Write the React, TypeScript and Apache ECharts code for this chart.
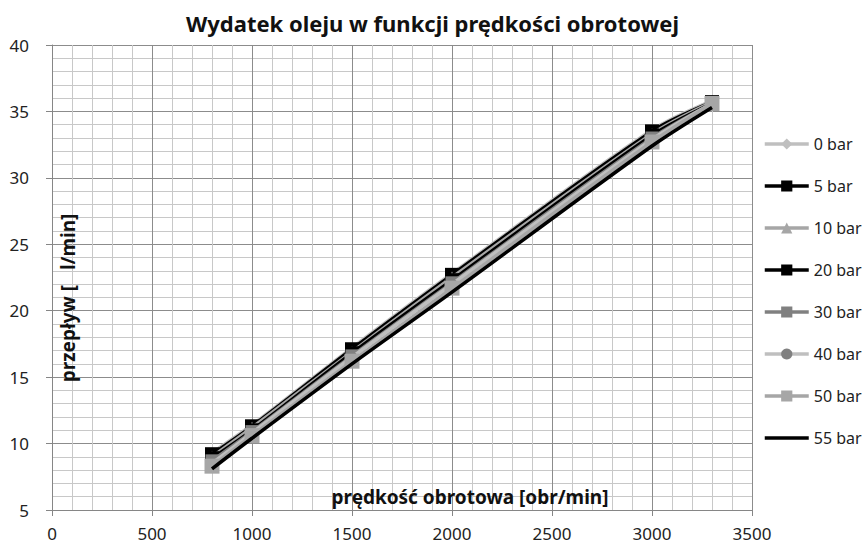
import React, { useEffect, useRef } from "react";
import * as echarts from "echarts";

const speeds = [800, 1000, 1500, 2000, 3000, 3300];
const seriesNames = ["0 bar", "5 bar", "10 bar", "20 bar", "30 bar", "40 bar", "50 bar", "55 bar"];
const bar0 = [9.3, 11.4, 17.2, 22.8, 33.6, 35.8];
const bar5 = [9.2, 11.3, 17.1, 22.7, 33.5, 35.7];
const bar10 = [9.0, 11.2, 16.9, 22.5, 33.3, 35.7];
const bar20 = [8.9, 11.0, 16.8, 22.3, 33.2, 35.6];
const bar30 = [8.7, 10.9, 16.6, 22.1, 33.0, 35.6];
const bar40 = [8.5, 10.8, 16.5, 22.0, 32.9, 35.6];
const bar50 = [8.3, 10.6, 16.2, 21.7, 32.7, 35.6];
const bar55 = [8.1, 10.4, 16.0, 21.4, 32.4, 35.3];
const xTicks = [0, 500, 1000, 1500, 2000, 2500, 3000, 3500];
const yTicks = [5, 10, 15, 20, 25, 30, 35, 40];

const values = [bar0, bar5, bar10, bar20, bar30, bar40, bar50, bar55];
const styles = [
  { line: "#bfbfbf", mark: "#bfbfbf", symbol: "diamond", size: 11 },
  { line: "#000000", mark: "#000000", symbol: "rect", size: 14 },
  { line: "#a6a6a6", mark: "#a6a6a6", symbol: "triangle", size: 12 },
  { line: "#000000", mark: "#000000", symbol: "rect", size: 14 },
  { line: "#808080", mark: "#808080", symbol: "rect", size: 13 },
  { line: "#bfbfbf", mark: "#808080", symbol: "circle", size: 11 },
  { line: "#a6a6a6", mark: "#a6a6a6", symbol: "rect", size: 15 },
  { line: "#000000", mark: "#000000", symbol: "none", size: 0 },
];

const FONT = "Noto Sans";

export default function App() {
  const ref = useRef<HTMLDivElement>(null);
  useEffect(() => {
    if (!ref.current) return;
    const chart = echarts.init(ref.current, null, { renderer: "svg" });
    const series = seriesNames.map((name, i) => ({
      name,
      type: "line",
      smooth: 0.3,
      data: speeds.map((s, j) => [s, values[i][j]]),
      symbol: styles[i].symbol,
      symbolSize: styles[i].size,
      showSymbol: styles[i].symbol !== "none",
      lineStyle: { color: styles[i].line, width: 3.5 },
      itemStyle: { color: styles[i].mark, borderWidth: 0 },
      emphasis: { disabled: true },
      z: 2 + i,
    }));
    const legendData = seriesNames.map((name, i) =>
      styles[i].symbol === "none"
        ? { name, itemStyle: { color: "rgba(0,0,0,0)", borderWidth: 0 } }
        : { name }
    );
    chart.setOption({
      animation: false,
      backgroundColor: "#ffffff",
      title: {
        text: "Wydatek oleju w funkcji prędkości obrotowej",
        left: "center",
        top: 7,
        textStyle: { fontFamily: FONT, fontSize: 22, fontWeight: "bold", color: "#111" },
      },
      grid: { left: 52, right: 113, top: 45, bottom: 36, containLabel: false },
      legend: {
        orient: "vertical",
        left: 758,
        top: 131,
        itemWidth: 44,
        itemHeight: 14,
        itemGap: 26,
        data: legendData,
        lineStyle: { width: 3.5 },
        textStyle: { fontFamily: FONT, fontSize: 16, color: "#222" },
      },
      xAxis: {
        type: "value",
        min: 0,
        max: 3500,
        interval: 500,
        axisLine: { show: true, lineStyle: { color: "#868686", width: 1 } },
        axisTick: { show: true, length: 6, lineStyle: { color: "#868686" } },
        axisLabel: {
          margin: 15,
          fontFamily: FONT,
          fontSize: 17,
          color: "#222",
          formatter: (v: number) => (xTicks.includes(v) ? String(v) : ""),
        },
        splitLine: { show: true, lineStyle: { color: "#8c8c8c", width: 1 } },
        minorTick: { show: false, splitNumber: 5 },
        minorSplitLine: { show: true, lineStyle: { color: "#c8c8c8", width: 1 } },
      },
      yAxis: {
        type: "value",
        min: 5,
        max: 40,
        interval: 5,
        axisLine: { show: true, lineStyle: { color: "#868686", width: 1 } },
        axisTick: { show: true, length: 6, lineStyle: { color: "#868686" } },
        axisLabel: {
          margin: 23,
          fontFamily: FONT,
          fontSize: 17,
          color: "#222",
          formatter: (v: number) => (yTicks.includes(v) ? String(v) : ""),
        },
        splitLine: { show: true, lineStyle: { color: "#8c8c8c", width: 1 } },
        minorTick: { show: false, splitNumber: 5 },
        minorSplitLine: { show: true, lineStyle: { color: "#c8c8c8", width: 1 } },
      },
      graphic: [
        {
          type: "text",
          x: 68,
          y: 298,
          rotation: Math.PI / 2,
          z: 100,
          style: {
            text: "przepływ\u00a0[\u00a0\u00a0\u00a0l/min]",
            fontFamily: FONT,
            fontSize: 19,
            fontWeight: "bold",
            fill: "#111",
            align: "center",
            verticalAlign: "middle",
          },
        },
        {
          type: "text",
          x: 470,
          y: 497,
          z: 100,
          style: {
            text: "prędkość obrotowa [obr/min]",
            fontFamily: FONT,
            fontSize: 19,
            fontWeight: "bold",
            fill: "#111",
            align: "center",
            verticalAlign: "middle",
          },
        },
      ],
      series,
    });
    return () => chart.dispose();
  }, []);
  return <div ref={ref} style={{ width: 865, height: 546, position: "absolute", left: 0, top: 0 }} />;
}
